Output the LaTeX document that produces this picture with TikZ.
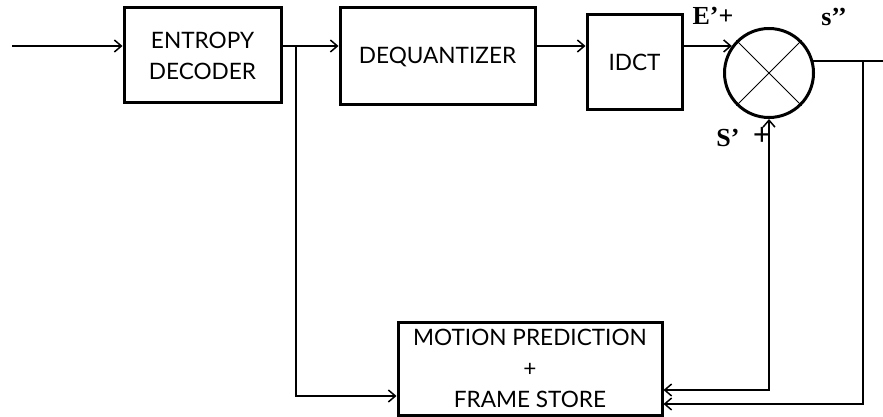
\documentclass[tikz,border=0pt]{standalone}
\usepackage{fontspec}
\setmainfont{Lato}
\newfontfamily\lblfont{Liberation Serif}
\usetikzlibrary{arrows.meta,positioning,calc}

\begin{document}
\begin{tikzpicture}[
  x=0.5pt, y=-0.5pt,
  >={Straight Barb[length=3.5pt,width=6pt]},
  block/.style={draw, line width=1.5pt, align=center, inner sep=0pt,
    font=\fontsize{11.3}{15.5}\selectfont},
  link/.style={line width=0.75pt},
  sign/.style={font=\lblfont\bfseries\fontsize{13}{14}\selectfont, inner sep=0pt}
]
\useasboundingbox (0,0) rectangle (883,417);

\node[block, minimum width=78.5pt, minimum height=47.5pt] (entropy) at (202.5,55.5) {ENTROPY\\DECODER};
\node[block, minimum width=97.5pt, minimum height=48.5pt] (dequant) at (437.5,56.5) {DEQUANTIZER};
\node[block, minimum width=47.5pt, minimum height=47.5pt] (idct) at (634.5,62.5) {IDCT};
\node[draw, circle, line width=1.5pt, minimum size=44.5pt, inner sep=0pt] (sum) at (769,73) {};
\node[block, minimum width=132pt, minimum height=46.5pt] (motion) at (530,368.5) {MOTION PREDICTION\\+\\FRAME STORE};

\draw[line width=0.5pt] (sum.45) -- (sum.225) (sum.135) -- (sum.315);

\node[sign] (eplus) at (713,16) {E’+};
\node[sign] (sout) at (834,17) {s’’};
\node[sign] (spr) at (728,138) {S’};
\node[sign, font=\lblfont\bfseries\fontsize{16}{16}\selectfont] (splus) at (762,136) {+};

\coordinate (in) at (12,46);
\coordinate (split) at (296,396);
\coordinate (fb) at (769,390);
\coordinate (tap) at (863,404);
\coordinate (out) at (883,0);

\draw[link,->] (in) -- (entropy.west |- in);
\draw[link,->] (entropy.east |- in) -- (dequant.west |- in);
\draw[link,->] (dequant.east |- in) -- (idct.west |- in);
\draw[link,->] (idct.east |- sum.144) -- (sum.144);
\draw[link,->] (split |- in) -- (split) -- (motion.west |- split);
% feedback from the summer
\draw[link,<->] (sum.south) -- (fb) -- (motion.east |- fb);
\draw[link] (sum.15) -- (sum.15 -| out);
\draw[link,->] (sum.15 -| tap) -- (tap) -- (motion.east |- tap);
\end{tikzpicture}
\end{document}
